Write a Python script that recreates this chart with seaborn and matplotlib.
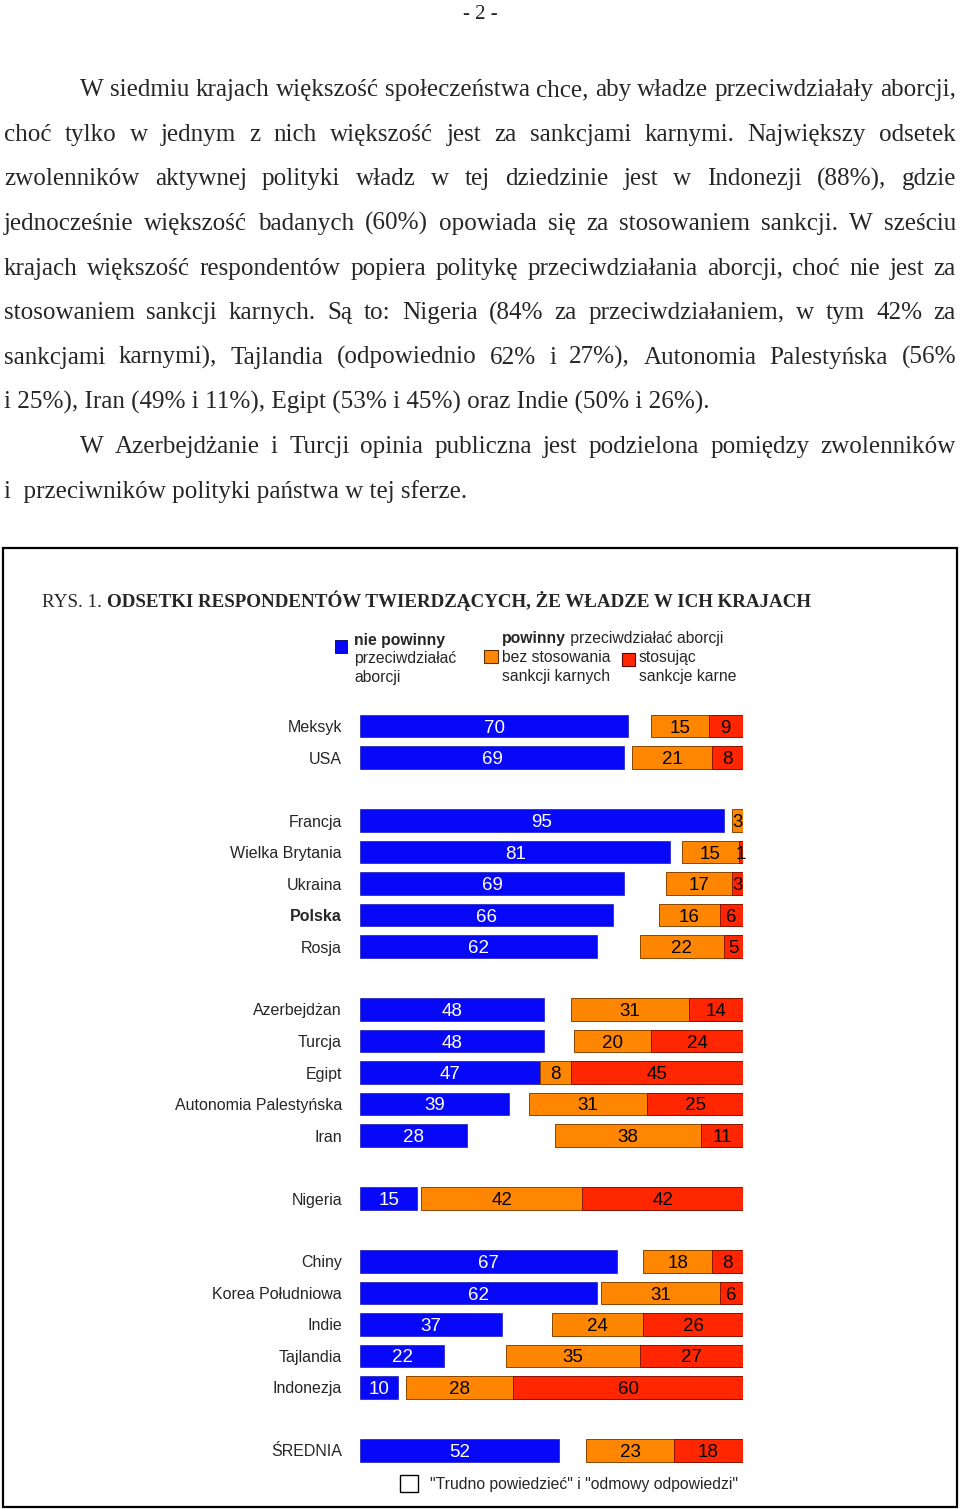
import matplotlib
matplotlib.use("Agg")
import matplotlib.pyplot as plt
import seaborn as sns
import pandas as pd
from matplotlib.patches import Rectangle

# ---------------- data ----------------
countries = ["Meksyk", "USA",
             "Francja", "Wielka Brytania", "Ukraina", "Polska", "Rosja",
             "Azerbejdżan", "Turcja", "Egipt", "Autonomia Palestyńska", "Iran",
             "Nigeria",
             "Chiny", "Korea Południowa", "Indie", "Tajlandia", "Indonezja",
             "ŚREDNIA"]
nie_powinny = [70, 69, 95, 81, 69, 66, 62, 48, 48, 47, 39, 28, 15, 67, 62, 37, 22, 10, 52]
bez_sankcji = [15, 21, 3, 15, 17, 16, 22, 31, 20, 8, 31, 38, 42, 18, 31, 24, 35, 28, 23]
z_sankcjami = [9, 8, 0, 1, 3, 6, 5, 14, 24, 45, 25, 11, 42, 8, 6, 26, 27, 60, 18]
group_sizes = [2, 5, 5, 1, 5, 1]
bold_country = "Polska"

page_number = "- 2 -"
paragraph_lines = [
    "W siedmiu krajach większość społeczeństwa chce, aby władze przeciwdziałały aborcji,",
    "choć tylko w jednym z nich większość jest za sankcjami karnymi. Największy odsetek",
    "zwolenników aktywnej polityki władz w tej dziedzinie jest w Indonezji (88%), gdzie",
    "jednocześnie większość badanych (60%) opowiada się za stosowaniem sankcji. W sześciu",
    "krajach większość respondentów popiera politykę przeciwdziałania aborcji, choć nie jest za",
    "stosowaniem sankcji karnych. Są to: Nigeria (84% za przeciwdziałaniem, w tym 42% za",
    "sankcjami karnymi), Tajlandia (odpowiednio 62% i 27%), Autonomia Palestyńska (56%",
    "i 25%), Iran (49% i 11%), Egipt (53% i 45%) oraz Indie (50% i 26%).",
    "W Azerbejdżanie i Turcji opinia publiczna jest podzielona pomiędzy zwolenników",
    "i  przeciwników polityki państwa w tej sferze.",
]
line_indent = [True, False, False, False, False, False, False, False, True, False]
line_justify = [True, True, True, True, True, True, True, False, True, False]

title_prefix = "RYS. 1. "
title_main = "ODSETKI RESPONDENTÓW TWIERDZĄCYCH, ŻE WŁADZE W ICH KRAJACH"
leg_blue = ["nie powinny", "przeciwdziałać", "aborcji"]
leg_head_bold = "powinny"
leg_head_rest = " przeciwdziałać aborcji"
leg_orange = ["bez stosowania", "sankcji karnych"]
leg_red = ["stosując", "sankcje karne"]
footnote = '"Trudno powiedzieć" i "odmowy odpowiedzi"'

BLUE = "#0808F8"
ORANGE = "#FF8600"
RED = "#FF2600"

sns.set_style("white")
plt.rcParams["font.family"] = ["Liberation Sans", "DejaVu Sans"]
SERIF = ["Liberation Serif", "DejaVu Serif"]
SANS = ["Liberation Sans", "DejaVu Sans"]

df = pd.DataFrame({"kraj": countries, "nie": nie_powinny,
                   "bez": bez_sankcji, "kar": z_sankcjami})
df["razem"] = df["bez"] + df["kar"]

order = []
k = 0
for g, n in enumerate(group_sizes):
    if g > 0:
        order.append(" " * g)
    order.extend(countries[k:k + n])
    k += n

# ---------------- figure ----------------
W, H = 960, 1509
fig = plt.figure(figsize=(W / 100, H / 100), dpi=100)
ov = fig.add_axes([0, 0, 1, 1])
ov.set_xlim(0, W)
ov.set_ylim(H, 0)
ov.axis("off")
renderer = fig.canvas.get_renderer()


def text_width(s, **kw):
    t = ov.text(0, 0, s, **kw)
    w = t.get_window_extent(renderer).width
    t.remove()
    return w


# page number
ov.text(480, 19, page_number, ha="center", va="baseline", family=SERIF, fontsize=15)

# paragraph: fit font size so the last (non-justified) line width matches
ref_w = text_width(paragraph_lines[7], family=SERIF, fontsize=10)
pfs = 10 * 706 / ref_w
base0, step = 96, 44.65
for i, line in enumerate(paragraph_lines):
    y = base0 + i * step
    x0 = 80 if line_indent[i] else 4
    x1 = 956
    kw = dict(family=SERIF, fontsize=pfs)
    if line_justify[i]:
        words = line.split()
        widths = [text_width(w_, **kw) for w_ in words]
        gap = (x1 - x0 - sum(widths)) / (len(words) - 1)
        x = x0
        for w_, wd in zip(words, widths):
            ov.text(x, y, w_, ha="left", va="baseline", **kw)
            x += wd + gap
    else:
        ov.text(x0, y, line, ha="left", va="baseline", **kw)

# frame
ov.add_patch(Rectangle((3, 548), 954, 959, fill=False, ec="black", lw=1.6))

# title
tw = text_width(title_prefix, family=SERIF, fontsize=10) + \
    text_width(title_main, family=SERIF, fontsize=10, weight="bold")
tfs = 10 * 768 / tw
ov.text(42, 607, title_prefix, family=SERIF, fontsize=tfs, ha="left", va="baseline")
xp = 42 + text_width(title_prefix, family=SERIF, fontsize=tfs)
ov.text(xp, 607, title_main, family=SERIF, fontsize=tfs, weight="bold",
        ha="left", va="baseline")

# legend
lfs = 11.3
ov.add_patch(Rectangle((335, 640), 12, 13, fc=BLUE, ec="#000060", lw=0.6))
for j, s in enumerate(leg_blue):
    ov.text(354, 645 + j * 18.5, s, family=SANS, fontsize=lfs,
            weight="bold" if j == 0 else "normal", ha="left", va="baseline")
ov.text(502, 643, leg_head_bold, family=SANS, fontsize=lfs, weight="bold",
        ha="left", va="baseline")
ov.text(502 + text_width(leg_head_bold, family=SANS, fontsize=lfs, weight="bold"),
        643, leg_head_rest, family=SANS, fontsize=lfs, ha="left", va="baseline")
ov.add_patch(Rectangle((484, 650), 14, 13, fc=ORANGE, ec="#603000", lw=0.8))
for j, s in enumerate(leg_orange):
    ov.text(502, 662 + j * 18.5, s, family=SANS, fontsize=lfs, ha="left", va="baseline")
ov.add_patch(Rectangle((622, 653), 13, 13, fc=RED, ec="#600000", lw=0.8))
for j, s in enumerate(leg_red):
    ov.text(639, 662 + j * 18.5, s, family=SANS, fontsize=lfs, ha="left", va="baseline")

# footnote legend
ov.add_patch(Rectangle((400, 1475), 18, 17, fc="white", ec="black", lw=1.0))
ov.text(430, 1489, footnote, family=SANS, fontsize=11.35, ha="left", va="baseline")

# ---------------- bars ----------------
n = len(order)
top_px, row_px = 726, 31.5
ax = fig.add_axes([360 / W, 1 - (top_px + (n - 0.5) * row_px) / H,
                   383 / W, n * row_px / H])
ax.patch.set_alpha(0)
ax2 = ax.twiny()
ax2.patch.set_alpha(0)

sns.barplot(data=df, x="nie", y="kraj", order=order, orient="h", color=BLUE,
            saturation=1, width=0.7, errorbar=None, edgecolor="#0000A0",
            linewidth=0.4, ax=ax)
sns.barplot(data=df, x="razem", y="kraj", order=order, orient="h", color=ORANGE,
            saturation=1, width=0.7, errorbar=None, edgecolor="#8A4500",
            linewidth=0.7, ax=ax2)
sns.barplot(data=df, x="kar", y="kraj", order=order, orient="h", color=RED,
            saturation=1, width=0.7, errorbar=None, edgecolor="#8A1500",
            linewidth=0.7, ax=ax2)

vfs = 13.5
blue_c = ax.containers[0]
anns = ax.bar_label(blue_c, labels=[f"{b.get_width():.0f}" for b in blue_c],
                    label_type="center", color="white", fontsize=vfs, family=SANS)
red_c = ax2.containers[1]
anns += ax2.bar_label(red_c, labels=[f"{b.get_width():.0f}" if b.get_width() > 0 else ""
                                     for b in red_c],
                      label_type="center", color="black", fontsize=vfs, family=SANS)
for a in anns:
    a.set_verticalalignment("center_baseline")
for kraj, b, r in zip(df["kraj"], df["bez"], df["kar"]):
    ax2.text(r + b / 2, order.index(kraj), f"{b}", ha="center", va="center_baseline",
             color="black", fontsize=vfs, family=SANS)

ax.set_xlim(0, 100)
ax2.set_xlim(100, 0)
ax.set_ylim(n - 0.5, -0.5)
ax.set_yticks(range(n))
ax.set_yticklabels(order, fontsize=11.5, family=SANS)
for lbl in ax.get_yticklabels():
    if lbl.get_text() == bold_country:
        lbl.set_fontweight("bold")
ax.tick_params(axis="y", length=0, pad=13)
ax.set_xticks([])
ax2.set_xticks([])
for a in (ax, ax2):
    a.set_xlabel("")
    a.set_ylabel("")
    for sp in a.spines.values():
        sp.set_visible(False)

fig.savefig("out.png", dpi=100)
